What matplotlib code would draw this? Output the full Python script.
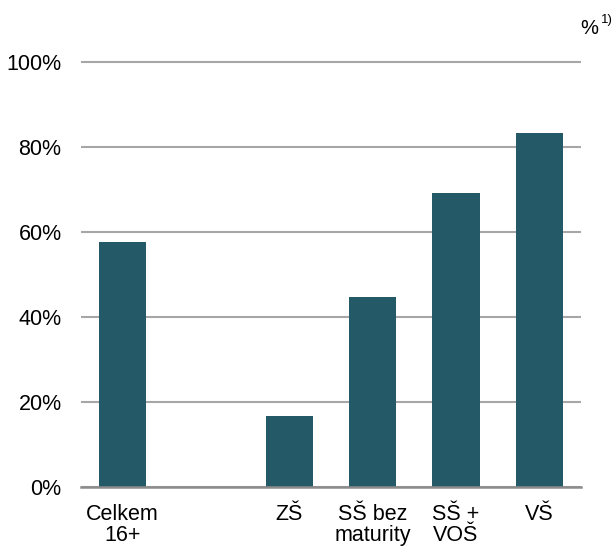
import matplotlib.pyplot as plt
import numpy as np

categories = ["Celkem\n16+", "", "ZŠ", "SŠ bez\nmaturity", "SŠ +\nVOŠ", "VŠ"]
values = [57.6, 0, 16.7, 44.7, 69.2, 83.3]
yticks = [0, 20, 40, 60, 80, 100]
ytick_labels = ["0%", "20%", "40%", "60%", "80%", "100%"]

plt.rcParams['font.family'] = ['Liberation Sans', 'DejaVu Sans']

W, H = 613, 546
fig = plt.figure(figsize=(W / 100, H / 100), dpi=100)
# axes in pixel terms: left 81, right 581, y=0 at 487, y=102 at 53.5
left, right = 81, 581
y0, ytop = 487, 487 - 102 * 4.25
ax = fig.add_axes([left / W, (H - y0) / H, (right - left) / W, (y0 - ytop) / H])

x = np.arange(len(categories))
ax.bar(x, values, width=0.565, color="#245a68", zorder=3)

ax.set_xlim(-0.5, len(categories) - 0.5)
ax.set_ylim(0, 102)
ax.set_yticks(yticks)
ax.set_yticklabels(ytick_labels)
ax.set_xticks(x)
ax.set_xticklabels(categories, linespacing=1.05)
ax.tick_params(axis='both', length=0, labelsize=15.5, colors="#000000")
ax.tick_params(axis='y', pad=14)
ax.tick_params(axis='x', pad=12)

ax.yaxis.grid(True, color="#a6a6a6", linewidth=1.5, zorder=0)
for s in ["top", "right", "left"]:
    ax.spines[s].set_visible(False)
ax.spines["bottom"].set_color("#8c8c8c")
ax.spines["bottom"].set_linewidth(1.8)
ax.spines["bottom"].set_zorder(4)

fig.text(580 / W, 1 - 28 / H, "%", fontsize=14.5, ha="left", va="center")
fig.text(601 / W, 1 - 20 / H, "1)", fontsize=9.5, ha="left", va="center")

plt.savefig("out.png", dpi=100)
